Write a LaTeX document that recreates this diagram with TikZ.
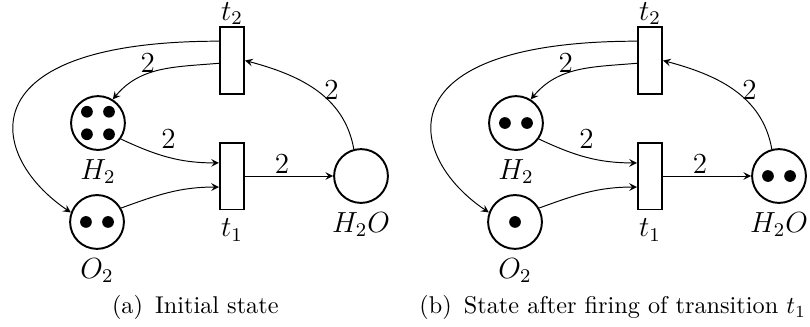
\documentclass[tikz,border=0pt]{standalone}
\usepackage{amsmath,amssymb}
\usepackage{tikz}

\begin{document}
\begin{tikzpicture}[>=stealth, every node/.style={font=\large}, place/.style={circle, draw, thick, minimum size=0.78cm, inner sep=0pt}, transition/.style={rectangle, draw, thick, minimum width=0.35cm, minimum height=0.97cm, inner sep=0pt}, arc/.style={->}]
	\useasboundingbox (0,0) rectangle (11.739,-4.739);
	% (a) initial marking
	\begin{scope}
		\node[transition, label={[inner sep=0.5pt]above:$t_2$}] (aT2) at (3.362,-0.877) {};
		\node[transition, label=below:$t_1$] (aT1) at (3.362,-2.551) {};
		\node[place, label=below:$H_2$] (aH2) at (1.420,-1.783) {};
		\node[place, label=below:$O_2$] (aO2) at (1.406,-3.217) {};
		\node[place, label=below:$H_2O$] (aH2O) at (5.232,-2.551) {};
		\foreach \dx/\dy in {-0.16/0.163, 0.16/0.163, -0.16/-0.163, 0.16/-0.163}
			\fill ([shift={(\dx,\dy)}]aH2) circle (0.085);
		\foreach \dx in {-0.16, 0.16}
			\fill ([shift={(\dx,0)}]aO2) circle (0.085);
		\draw[arc] ([yshift=0.28cm]aT2.west) .. controls +(-3.70,0) and +(-1.20,0.81) .. (aO2.160);
		\draw[arc] ([yshift=-0.04cm]aT2.west) to[out=185, in=50] node[pos=0.62, above, inner sep=0.5pt] {$2$} (aH2.58);
		\draw[arc] (aH2.-35) to[out=-25, in=180] node[pos=0.5, above] {$2$} ([yshift=0.19cm]aT1.west);
		\draw[arc] (aO2.30) to[out=20, in=180] ([yshift=-0.16cm]aT1.west);
		\draw[arc] (aT1.east) -- node[pos=0.42, above, inner sep=1pt] {$2$} (aH2O.west);
		\draw[arc] (aH2O.105) to[out=100, in=-15] node[pos=0.5, right] {$2$} (aT2.east);
	\end{scope}
	% (b) after t1 fired
	\begin{scope}[xshift=6.058cm]
		\node[transition, label={[inner sep=0.5pt]above:$t_2$}] (bT2) at (3.362,-0.877) {};
		\node[transition, label=below:$t_1$] (bT1) at (3.362,-2.551) {};
		\node[place, label=below:$H_2$] (bH2) at (1.420,-1.783) {};
		\node[place, label=below:$O_2$] (bO2) at (1.406,-3.217) {};
		\node[place, label=below:$H_2O$] (bH2O) at (5.232,-2.551) {};
		\foreach \dx in {-0.16, 0.16}
			\fill ([shift={(\dx,0)}]bH2) circle (0.085);
		\fill (bO2) circle (0.085);
		\foreach \dx in {-0.16, 0.16}
			\fill ([shift={(\dx,0)}]bH2O) circle (0.085);
		\draw[arc] ([yshift=0.28cm]bT2.west) .. controls +(-3.70,0) and +(-1.20,0.81) .. (bO2.160);
		\draw[arc] ([yshift=-0.04cm]bT2.west) to[out=185, in=50] node[pos=0.62, above, inner sep=0.5pt] {$2$} (bH2.58);
		\draw[arc] (bH2.-35) to[out=-25, in=180] node[pos=0.5, above] {$2$} ([yshift=0.19cm]bT1.west);
		\draw[arc] (bO2.30) to[out=20, in=180] ([yshift=-0.16cm]bT1.west);
		\draw[arc] (bT1.east) -- node[pos=0.42, above, inner sep=1pt] {$2$} (bH2O.west);
		\draw[arc] (bH2O.105) to[out=100, in=-15] node[pos=0.5, right] {$2$} (bT2.east);
	\end{scope}
	\node[font=\normalsize] (capA) at (2.83,-4.457) {(a)\enspace Initial state};
	\node[font=\normalsize] (capB) at (8.88,-4.457) {(b)\enspace State after firing of transition $t_1$};
\end{tikzpicture}
\end{document}
